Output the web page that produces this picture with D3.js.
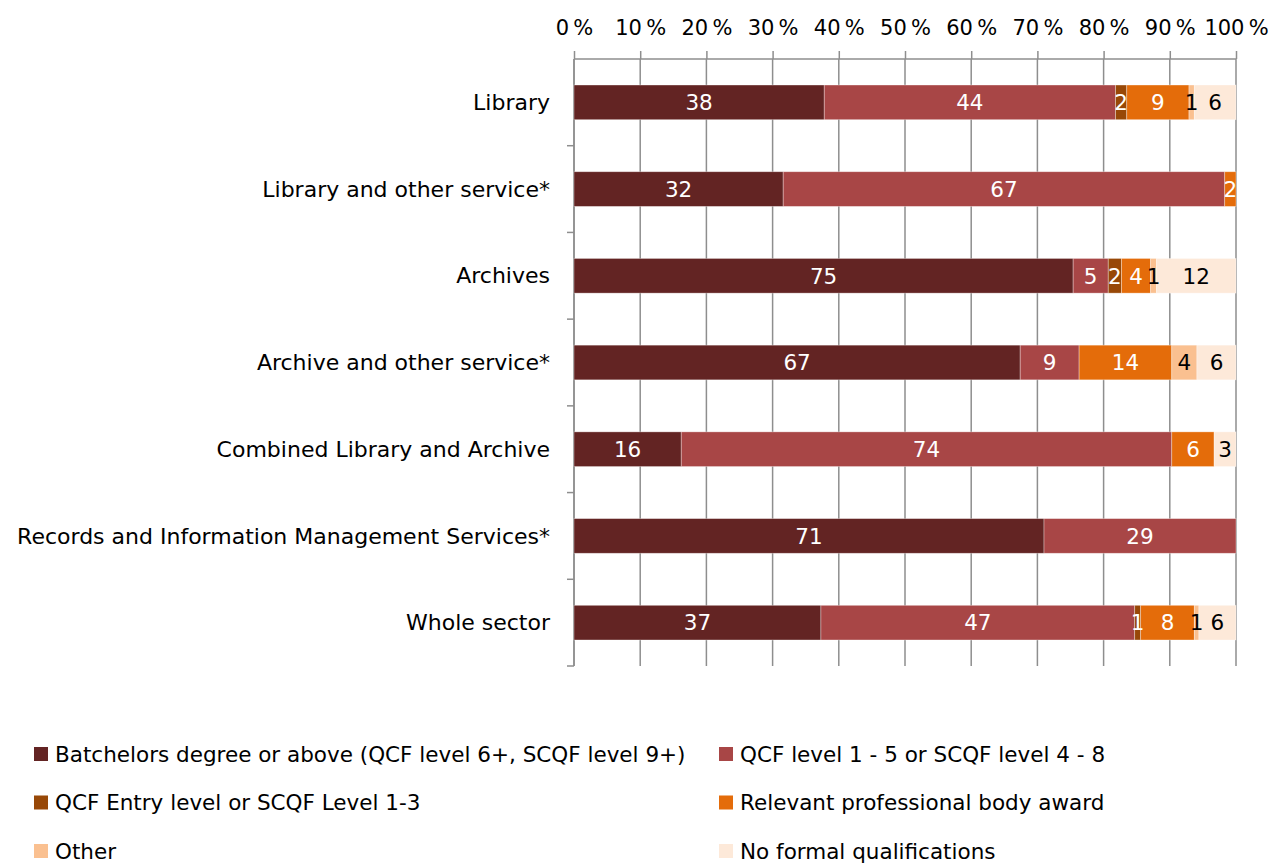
<!DOCTYPE html>
<html>
<head>
<meta charset="utf-8">
<script src="https://cdn.jsdelivr.net/npm/d3@7"></script>
<style>
  html, body { margin: 0; padding: 0; background: #fff; }
  svg { display: block; font-family: "DejaVu Sans", "Noto Sans", sans-serif; }
</style>
</head>
<body>
<svg id="chart" width="1277" height="865"></svg>
<script>
// Highest qualification held, share of workforce (%) by service type
const categories = [
  "Library",
  "Library and other service*",
  "Archives",
  "Archive and other service*",
  "Combined Library and Archive",
  "Records and Information Management Services*",
  "Whole sector"
];

const seriesNames = [
  "Batchelors degree or above (QCF level 6+, SCQF level 9+)",
  "QCF level 1 - 5 or SCQF level 4 - 8",
  "QCF Entry level or SCQF Level 1-3",
  "Relevant professional body award",
  "Other",
  "No formal qualifications"
];

const batchelors   = [37.8, 31.6, 75.4, 67.4, 16.2, 71.0, 37.3];
const qcfMid       = [44.0, 66.7,  5.3,  8.9, 74.1, 29.0, 47.4];
const qcfEntry     = [ 1.7,  0,    2.0,  0,    0,    0,    0.9];
const professional = [ 9.4,  1.7,  4.4, 14.0,  6.4,  0,    8.1];
const other        = [ 0.8,  0,    0.9,  3.8,  0,    0,    0.7];
const noFormal     = [ 6.3,  0,   12.0,  5.9,  3.3,  0,    5.6];

const tickValues = [0, 10, 20, 30, 40, 50, 60, 70, 80, 90, 100];

const colors = ["#632423", "#A84646", "#984807", "#E46C0A", "#FAC090", "#FDE9D9"];
const labelColors = ["#fff", "#fff", "#fff", "#fff", "#000", "#000"];

const seriesValues = [batchelors, qcfMid, qcfEntry, professional, other, noFormal];

const rows = categories.map((c, i) => {
  const r = { category: c };
  seriesNames.forEach((s, k) => { r[s] = seriesValues[k][i]; });
  return r;
});

const stacked = d3.stack().keys(seriesNames)(rows);

const svg = d3.select("#chart");

const x = d3.scaleLinear().domain([0, 100]).range([574, 1236]);
const y = d3.scaleBand().domain(categories).range([59, 666])
  .paddingInner(0.6).paddingOuter(0.3);

const gridColor = "#8e8e8e";
const fontSize = "21.5px";

// vertical gridlines
svg.append("g").selectAll("line").data(tickValues).join("line")
  .attr("x1", d => x(d)).attr("x2", d => x(d))
  .attr("y1", 59).attr("y2", 666)
  .attr("stroke", gridColor).attr("stroke-width", 1.5);

// top axis
const xAxis = svg.append("g")
  .attr("transform", "translate(0,59)")
  .call(d3.axisTop(x).tickValues(tickValues).tickSize(8).tickPadding(16)
    .tickFormat(d => d + "\u2009%"));
xAxis.select(".domain").attr("stroke", gridColor).attr("stroke-width", 1.5)
  .attr("d", `M${x(0)},0H${x(100)}`);
xAxis.selectAll(".tick line").attr("stroke", gridColor).attr("stroke-width", 1.5);
xAxis.selectAll(".tick text")
  .attr("fill", "#000")
  .style("font-size", "21px")
  .style("font-family", "\"DejaVu Sans\", sans-serif");

// left axis line with band separators
const step = y.step();
const bounds = d3.range(categories.length + 1).map(i => 59 + i * step);
svg.append("line")
  .attr("x1", x(0)).attr("x2", x(0))
  .attr("y1", 59).attr("y2", 666)
  .attr("stroke", gridColor).attr("stroke-width", 1.5);
svg.append("g").selectAll("line").data(bounds.slice(1)).join("line")
  .attr("x1", x(0) - 7).attr("x2", x(0))
  .attr("y1", d => d).attr("y2", d => d)
  .attr("stroke", gridColor).attr("stroke-width", 1.5);

// category labels
svg.append("g").selectAll("text").data(categories).join("text")
  .attr("x", 550)
  .attr("y", d => y(d) + y.bandwidth() / 2)
  .attr("dy", "0.35em")
  .attr("text-anchor", "end")
  .style("font-size", "22px")
  .attr("fill", "#000")
  .text(d => d);

// stacked bars
const layers = svg.append("g").selectAll("g").data(stacked).join("g")
  .attr("fill", (d, i) => colors[i]);

layers.selectAll("rect").data(d => d).join("rect")
  .filter(d => d[1] - d[0] > 0)
  .attr("x", d => x(d[0]))
  .attr("y", d => y(d.data.category))
  .attr("width", d => x(d[1]) - x(d[0]))
  .attr("height", y.bandwidth())
  .attr("stroke", "rgba(255,255,255,0.45)")
  .attr("stroke-width", 0.75);

// value labels
stacked.forEach((layer, k) => {
  svg.append("g").selectAll("text")
    .data(layer.filter(d => d[1] - d[0] > 0))
    .join("text")
    .attr("x", d => x((d[0] + d[1]) / 2))
    .attr("y", d => y(d.data.category) + y.bandwidth() / 2)
    .attr("dy", "0.36em")
    .attr("text-anchor", "middle")
    .attr("fill", labelColors[k])
    .style("font-size", fontSize)
    .text(d => Math.round(d[1] - d[0]));
});

// legend
const legendItems = seriesNames.map((name, i) => ({
  name, color: colors[i],
  col: i % 2, row: Math.floor(i / 2)
}));
const legend = svg.append("g").selectAll("g").data(legendItems).join("g")
  .attr("transform", d => `translate(${d.col === 0 ? 34 : 719},${754 + d.row * 48.5})`);
legend.append("rect")
  .attr("x", 0).attr("y", -7).attr("width", 14).attr("height", 14)
  .attr("fill", d => d.color);
legend.append("text")
  .attr("x", 21).attr("y", 0).attr("dy", "0.35em")
  .style("font-size", fontSize)
  .attr("fill", "#000")
  .text(d => d.name);
</script>
</body>
</html>
